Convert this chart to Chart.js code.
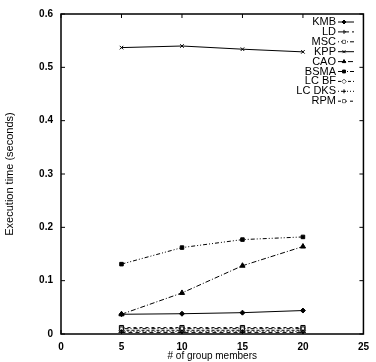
<!DOCTYPE html>
<html>
<head>
  <meta charset="UTF-8">
  <script src="https://cdn.jsdelivr.net/npm/chart.js"></script>
  <style>
    body { margin: 0; background: #fff; }
    canvas { display: block; }
  </style>
</head>
<body>
  <canvas id="chart" width="376" height="362"></canvas>
  <script>
    // group sizes on the x axis
    const groupMembers = [5, 10, 15, 20];

    const seriesNames = ['KMB', 'LD', 'MSC', 'KPP', 'CAO', 'BSMA', 'LC BF', 'LC DKS', 'RPM'];

    const kmb   = [0.037, 0.038, 0.040, 0.044];
    const ld    = [0.003, 0.003, 0.003, 0.003];
    const msc   = [0.010, 0.010, 0.010, 0.010];
    const kpp   = [0.537, 0.540, 0.534, 0.529];
    const cao   = [0.037, 0.077, 0.128, 0.164];
    const bsma  = [0.131, 0.162, 0.177, 0.182];
    const lcBf  = [0.007, 0.007, 0.007, 0.007];
    const lcDks = [0.005, 0.005, 0.005, 0.005];
    const rpm   = [0.012, 0.012, 0.012, 0.012];

    const xTicks = [0, 5, 10, 15, 20, 25];
    const yTicks = [0, 0.1, 0.2, 0.3, 0.4, 0.5, 0.6];

    const styles = [
      { pointStyle: 'rectRot', fill: true,  radius: 2.5, dash: [] },
      { pointStyle: 'cross',   fill: false, radius: 3,   dash: [4, 3] },
      { pointStyle: 'rect',    fill: false, radius: 2.5, dash: [1, 2, 4, 2] },
      { pointStyle: 'crossRot',fill: false, radius: 2.5, dash: [] },
      { pointStyle: 'triangle',fill: true,  radius: 3,   dash: [5, 2, 1, 2] },
      { pointStyle: 'rect',    fill: true,  radius: 2.5, dash: [4, 2, 1, 2, 1, 2] },
      { pointStyle: 'rectRot', fill: false, radius: 2.5, dash: [3, 2] },
      { pointStyle: 'cross',   fill: false, radius: 2.5, dash: [1, 2] },
      { pointStyle: 'rect',    fill: false, radius: 3,   dash: [3, 3] }
    ];

    const values = [kmb, ld, msc, kpp, cao, bsma, lcBf, lcDks, rpm];

    const datasets = seriesNames.map((name, i) => ({
      label: name,
      data: groupMembers.map((x, j) => ({ x: x, y: values[i][j] })),
      borderColor: '#000',
      borderWidth: 1,
      borderDash: styles[i].dash,
      pointStyle: styles[i].pointStyle,
      pointRadius: styles[i].radius,
      pointBorderColor: '#000',
      pointBackgroundColor: styles[i].fill ? '#000' : '#fff',
      pointBorderWidth: 1,
      fill: false,
      tension: 0
    }));

    const FONT = '"Liberation Sans", Arial, sans-serif';

    // frame, inward ticks and legend
    const framePlugin = {
      id: 'frame',
      afterDraw(chart) {
        const ctx = chart.ctx;
        const a = chart.chartArea;
        const xs = chart.scales.x, ys = chart.scales.y;
        ctx.save();
        ctx.strokeStyle = '#000';
        ctx.lineWidth = 1.5;
        ctx.setLineDash([]);
        ctx.strokeRect(a.left, a.top, a.right - a.left, a.bottom - a.top);
        ctx.lineWidth = 1;
        ctx.beginPath();
        xTicks.forEach(v => {
          const px = xs.getPixelForValue(v);
          ctx.moveTo(px, a.bottom); ctx.lineTo(px, a.bottom - 4);
          ctx.moveTo(px, a.top); ctx.lineTo(px, a.top + 4);
        });
        yTicks.forEach(v => {
          const py = ys.getPixelForValue(v);
          ctx.moveTo(a.left, py); ctx.lineTo(a.left + 4, py);
          ctx.moveTo(a.right, py); ctx.lineTo(a.right - 4, py);
        });
        ctx.stroke();

        // legend
        ctx.font = '11px ' + FONT;
        ctx.fillStyle = '#000';
        ctx.textAlign = 'right';
        ctx.textBaseline = 'middle';
        chart.data.datasets.forEach((ds, i) => {
          const y = 22 + i * 9.9;
          ctx.fillText(ds.label, 336, y);
          ctx.beginPath();
          ctx.setLineDash(ds.borderDash);
          ctx.moveTo(338, y); ctx.lineTo(354, y);
          ctx.stroke();
          ctx.setLineDash([]);
          Chart.helpers.drawPoint(ctx, {
            pointStyle: ds.pointStyle, radius: 2, rotation: 0, borderWidth: 1
          }, 344, y);
          ctx.fillStyle = ds.pointBackgroundColor;
          ctx.fill();
          ctx.fillStyle = '#000';
        });
        ctx.restore();
      }
    };

    new Chart(document.getElementById('chart'), {
      type: 'line',
      data: { datasets: datasets },
      options: {
        responsive: false,
        animation: false,
        layout: { padding: { top: 5, right: 6, left: 0, bottom: 0 } },
        plugins: { legend: { display: false }, tooltip: { enabled: false } },
        scales: {
          x: {
            type: 'linear',
            min: 0, max: 25,
            afterFit(scale) { scale.height = 28; },
            afterBuildTicks(scale) { scale.ticks = xTicks.map(v => ({ value: v })); },
            grid: { display: false, drawTicks: false },
            border: { display: false },
            ticks: {
              color: '#000',
              padding: 7,
              maxRotation: 0,
              font: { family: FONT, size: 10, weight: 'bold' }
            },
            title: {
              display: true,
              text: '# of group members',
              color: '#000',
              padding: { top: 0, bottom: 0 },
              font: { family: FONT, size: 10 }
            }
          },
          y: {
            min: 0, max: 0.6,
            afterFit(scale) { scale.width = 61; },
            afterBuildTicks(scale) { scale.ticks = yTicks.map(v => ({ value: v })); },
            grid: { display: false, drawTicks: false },
            border: { display: false },
            ticks: {
              color: '#000',
              padding: 8,
              callback: v => String(Number(v.toFixed(1))),
              font: { family: FONT, size: 10, weight: 'bold' }
            },
            title: {
              display: true,
              text: 'Execution time (seconds)',
              color: '#000',
              padding: { top: 3, bottom: 0 },
              font: { family: FONT, size: 11 }
            }
          }
        }
      },
      plugins: [framePlugin]
    });
  </script>
</body>
</html>
